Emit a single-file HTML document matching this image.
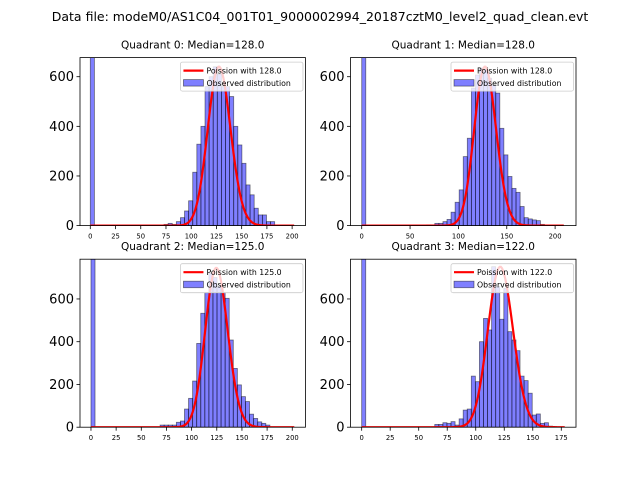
<!DOCTYPE html>
<html><head><meta charset="utf-8"><style>
body{margin:0;background:#fff;}
svg{display:block;font-family:"DejaVu Sans","Liberation Sans",sans-serif;}
</style></head><body>
<svg id="chart" width="640" height="480">
<text x="320" y="21" text-anchor="middle" font-size="12.5">Data file: modeM0/AS1C04_001T01_9000002994_20187cztM0_level2_quad_clean.evt</text>
</svg>
<script>
// ---- data ----
const quadrantNames = ["Quadrant 0", "Quadrant 1", "Quadrant 2", "Quadrant 3"];
const medians = [128.0, 128.0, 125.0, 122.0];
const binWidths = [4.06, 4.2, 4.04, 3.56];
const curvePeaks = [640, 640, 745, 750];
const curveMaxX = [202, 209, 202, 178];
const q0Counts = [5000,0,0,0,0,0,0,0,0,0,0,0,0,0,0,0,0,0,5,9,5,16,32,59,100,215,328,400,560,600,640,610,560,560,520,400,325,251,164,124,70,43,43,16,16,0,0,0,0,0];
const q1Counts = [5000,0,0,0,0,0,0,0,0,0,0,0,0,0,0,0,3,3,9,9,16,25,54,94,144,278,352,554,607,635,630,594,567,534,392,285,198,150,134,77,32,27,23,20,5,2,0,0,0,0];
const q2Counts = [5000,0,0,0,0,0,0,0,0,0,0,0,0,0,0,0,0,10,10,10,10,23,29,85,135,216,392,533,631,720,700,658,631,603,408,275,198,143,120,61,41,25,18,10,0,0,0,0,0,0];
const q3Counts = [5000,0,0,0,0,0,0,0,0,0,0,0,0,0,0,0,0,0,13,13,21,18,26,10,39,80,85,239,213,400,509,455,751,658,505,650,447,408,358,239,218,159,57,62,18,21,5,3,0,0];
const xTickLabels0 = [0,25,50,75,100,125,150,175,200];
const xTickLabels1 = [0,50,100,150,200];
const xTickLabels2 = [0,25,50,75,100,125,150,175,200];
const xTickLabels3 = [0,25,50,75,100,125,150,175];
const yTickLabels = [0,200,400,600];

const counts = [q0Counts, q1Counts, q2Counts, q3Counts];
const xTicks = [xTickLabels0, xTickLabels1, xTickLabels2, xTickLabels3];
const panels = [
  {l:80, r:305.45, t:57.6, b:225.6, xmin:-10.2, xmax:213.2, ymax:677},
  {l:350.5, r:576, t:57.6, b:225.6, xmin:-11.6, xmax:221.6, ymax:677},
  {l:80, r:305.45, t:259.2, b:427.2, xmin:-10.9, xmax:213.1, ymax:786},
  {l:350.5, r:576, t:259.2, b:427.2, xmin:-9.8, xmax:187.9, ymax:786}
];
const NS = "http://www.w3.org/2000/svg";
const svg = document.getElementById('chart');
function mk(tag, attrs, parent){
  const e = document.createElementNS(NS, tag);
  for (const k in attrs) e.setAttribute(k, attrs[k]);
  (parent||svg).appendChild(e); return e;
}
function lnFact(k){ let s=0; for(let i=2;i<=k;i++) s+=Math.log(i); return s; }
function pmf(k, lam){ return Math.exp(k*Math.log(lam) - lam - lnFact(k)); }

panels.forEach((p, qi) => {
  const g = mk('g', {});
  
  
  const xs = v => p.l + (v - p.xmin) / (p.xmax - p.xmin) * (p.r - p.l);
  const ys = v => p.b - v / p.ymax * (p.b - p.t);
  const clipId = 'clip' + qi;
  const cp = mk('clipPath', {id: clipId}, g);
  mk('rect', {x:p.l, y:p.t, width:p.r-p.l, height:p.b-p.t}, cp);
  const plot = mk('g', {'clip-path':'url(#'+clipId+')'}, g);
  counts[qi].forEach((c, k) => {
    if (c <= 0) return;
    const x0 = xs(k*binWidths[qi]), x1 = xs((k+1)*binWidths[qi]);
    const r = mk('rect', {x:x0, y:ys(c), width:x1-x0, height:p.b-ys(c), fill:'rgba(0,0,255,0.5)', stroke:'rgba(0,0,0,0.5)', 'stroke-width':0.8}, plot);
    
    
  });
  const lam = medians[qi];
  const scale = curvePeaks[qi] / pmf(Math.round(lam), lam);
  let d = '';
  for (let k = 0; k <= curveMaxX[qi]; k++) {
    d += (k ? 'L' : 'M') + xs(k).toFixed(2) + ',' + ys(scale*pmf(k, lam)).toFixed(2);
  }
  const line = mk('path', {d:d, fill:'none', stroke:'#ff0000', 'stroke-width':2.2}, plot);
  
  
  const frame = mk('rect', {x:p.l, y:p.t, width:p.r-p.l, height:p.b-p.t, fill:'none', stroke:'#000', 'stroke-width':0.8}, g);
  
  
  xTicks[qi].forEach(v => {
    const x = xs(v);
    mk('line', {x1:x, x2:x, y1:p.b, y2:p.b+3.5, stroke:'#000', 'stroke-width':0.8}, g);
    const t = mk('text', {x:x, y:p.b+13, 'text-anchor':'middle', 'font-size':6.8}, g);
    t.textContent = v;
    
    
  });
  yTickLabels.forEach(v => {
    const y = ys(v);
    mk('line', {x1:p.l-3.5, x2:p.l, y1:y, y2:y, stroke:'#000', 'stroke-width':0.8}, g);
    const t = mk('text', {x:p.l-6, y:y+4.5, 'text-anchor':'end', 'font-size':13}, g);
    t.textContent = v;
    
    
  });
  const tt = mk('text', {x:(p.l+p.r)/2, y:p.t-9, 'text-anchor':'middle', 'font-size':10.5}, g);
  tt.textContent = quadrantNames[qi] + ': Median=' + medians[qi].toFixed(1);
  
  
  const lg = mk('g', {}, g);
  
  
  const lx = p.r - 125, ly = p.t + 4.5;
  mk('rect', {x:lx, y:ly, width:122.5, height:29, rx:2, fill:'rgba(255,255,255,0.8)', stroke:'#ccc', 'stroke-width':0.8}, lg);
  mk('line', {x1:lx+3, x2:lx+23, y1:ly+8.5, y2:ly+8.5, stroke:'#f00', 'stroke-width':2.2}, lg);
  const t1 = mk('text', {x:lx+26, y:ly+11.5, 'font-size':7.8}, lg);
  t1.textContent = 'Poission with ' + medians[qi].toFixed(1);
  
  
  mk('rect', {x:lx+3, y:ly+17.5, width:20, height:6.5, fill:'rgba(0,0,255,0.5)', stroke:'rgba(0,0,0,0.5)', 'stroke-width':0.8}, lg);
  const t2 = mk('text', {x:lx+26, y:ly+24, 'font-size':7.8}, lg);
  t2.textContent = 'Observed distribution';
  
  
});
</script>
</body></html>
